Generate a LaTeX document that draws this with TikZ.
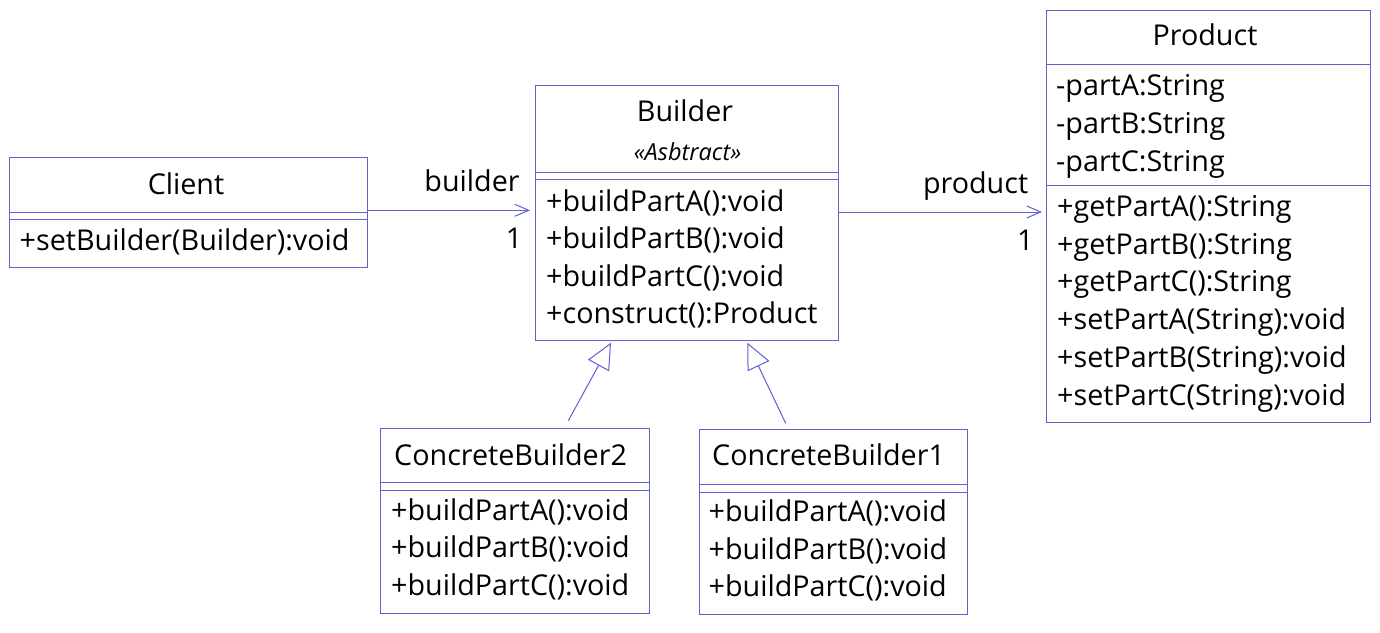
\documentclass[tikz,border=0pt]{standalone}
\usepackage{fontspec}
\setmainfont{Open Sans}
\usetikzlibrary{arrows.meta}
\definecolor{uml}{RGB}{96,96,208}
\begin{document}
\begin{tikzpicture}[x=1pt,y=-1pt,
  cls/.style={draw=uml, line width=1pt, inner sep=0pt, outer sep=0pt, rectangle},
  sepline/.style={draw=uml, line width=1pt},
  txt/.style={inner sep=0pt, anchor=base west, font=\fontsize{28.7}{32}\selectfont},
  ctxt/.style={inner sep=0pt, anchor=base, font=\fontsize{28.7}{32}\selectfont},
  stereo/.style={inner sep=0pt, anchor=base, font=\fontsize{23.5}{27}\selectfont\itshape},
  assoc/.style={draw=uml, line width=1pt, -{Straight Barb[length=14pt,width=12pt,line width=1pt]}},
  gen/.style={draw=uml, line width=1pt, -{Triangle[open,length=26pt,width=24pt,line width=1pt,fill=white]}}
]
\useasboundingbox[fill=white] (0,0) rectangle (1380,632);

% Client
\node[cls, minimum width=358pt, minimum height=110pt] (client) at (188,212) {};
\draw[sepline] (client.west |- 0,212) -- (client.east |- 0,212);
\draw[sepline] (client.west |- 0,219) -- (client.east |- 0,219);
\node[ctxt] (clientname) at (186,194) {Client};
\node[txt] (clientm1) at (19.5,250) {+setBuilder(Builder):void};

% Builder
\node[cls, minimum width=303pt, minimum height=255pt] (builder) at (686.5,212.5) {};
\draw[sepline] (builder.west |- 0,172) -- (builder.east |- 0,172);
\draw[sepline] (builder.west |- 0,179) -- (builder.east |- 0,179);
\node[ctxt] (buildername) at (685,121.5) {Builder};
\node[stereo] (builderst) at (687.5,160) {«Asbtract»};
\node[txt] (bm1) at (546,211) {+buildPartA():void};
\node[txt] (bm2) at (546,248.5) {+buildPartB():void};
\node[txt] (bm3) at (546,286) {+buildPartC():void};
\node[txt] (bm4) at (546,323.5) {+construct():Product};

% Product
\node[cls, minimum width=324pt, minimum height=412pt] (product) at (1208,216) {};
\draw[sepline] (product.west |- 0,64.3) -- (product.east |- 0,64.3);
\draw[sepline] (product.west |- 0,185.3) -- (product.east |- 0,185.3);
\node[ctxt] (productname) at (1205,45.5) {Product};
\node[txt] (pa1) at (1056,95.5) {-partA:String};
\node[txt] (pa2) at (1056,133.5) {-partB:String};
\node[txt] (pa3) at (1056,171.5) {-partC:String};
\node[txt] (pm1) at (1057,216.5) {+getPartA():String};
\node[txt] (pm2) at (1057,254.2) {+getPartB():String};
\node[txt] (pm3) at (1057,291.9) {+getPartC():String};
\node[txt] (pm4) at (1057,329.6) {+setPartA(String):void};
\node[txt] (pm5) at (1057,367.3) {+setPartB(String):void};
\node[txt] (pm6) at (1057,405) {+setPartC(String):void};

% ConcreteBuilder2
\node[cls, minimum width=269pt, minimum height=185pt] (cb2) at (514.5,521) {};
\draw[sepline] (cb2.west |- 0,482.3) -- (cb2.east |- 0,482.3);
\draw[sepline] (cb2.west |- 0,490.3) -- (cb2.east |- 0,490.3);
\node[txt] (cb2name) at (394,465) {ConcreteBuilder2};
\node[txt] (cb2m1) at (391,520) {+buildPartA():void};
\node[txt] (cb2m2) at (391,557.7) {+buildPartB():void};
\node[txt] (cb2m3) at (391,595.3) {+buildPartC():void};

% ConcreteBuilder1
\node[cls, minimum width=268pt, minimum height=185.5pt] (cb1) at (833,522.2) {};
\draw[sepline] (cb1.west |- 0,484) -- (cb1.east |- 0,484);
\draw[sepline] (cb1.west |- 0,492.3) -- (cb1.east |- 0,492.3);
\node[txt] (cb1name) at (712,465.7) {ConcreteBuilder1};
\node[txt] (cb1m1) at (708.5,521.3) {+buildPartA():void};
\node[txt] (cb1m2) at (708.5,559) {+buildPartB():void};
\node[txt] (cb1m3) at (708.5,596.7) {+buildPartC():void};

% associations
\draw[assoc, shorten >=5pt] (client.east |- 0,210.3) -- (builder.west |- 0,210.3);
\node[ctxt] (lblbuilder) at (472,191.7) {builder};
\node[ctxt] (lblone1) at (514,248) {1};
\draw[assoc, shorten >=4pt] (builder.east |- 0,212) -- (product.west |- 0,212);
\node[ctxt] (lblproduct) at (975.6,193.3) {product};
\node[ctxt] (lblone2) at (1025.4,250) {1};

% generalizations
\coordinate (g2s) at (568.3,420.7);
\coordinate (g2e) at (611,342.7);
\coordinate (g1s) at (785.7,423.3);
\coordinate (g1e) at (747.3,342.7);
\draw[gen] (g2s) -- (g2e);
\draw[gen] (g1s) -- (g1e);
\end{tikzpicture}
\end{document}
